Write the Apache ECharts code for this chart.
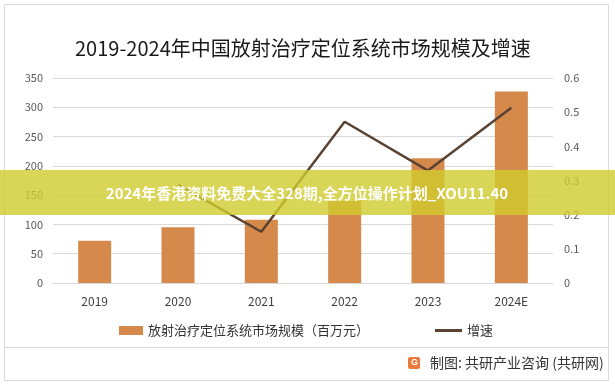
<!DOCTYPE html>
<html><head><meta charset="utf-8">
<script src="https://cdn.jsdelivr.net/npm/echarts@6/dist/echarts.min.js"></script>
<style>html,body{margin:0;padding:0;background:#fff}#c{width:615px;height:387px}</style>
</head><body><div id="c"></div>
<script>
const categories = ['2019','2020','2021','2022','2023','2024E'];
const marketSize = [72, 95, 108, 140, 213, 327];
const growth = [null, 0.287, 0.150, 0.472, 0.329, 0.513];
const leftTicks = [0, 50, 100, 150, 200, 250, 300, 350];
const rightTicks = [0, 0.1, 0.2, 0.3, 0.4, 0.5, 0.6];
const titleText = '2019-2024年中国放射治疗定位系统市场规模及增速';
const barName = '放射治疗定位系统市场规模（百万元）';
const lineName = '增速';
const bannerText = '2024年香港资料免费大全328期,全方位操作计划_XOU11.40';
const sourceText = '制图: 共研产业咨询 (共研网)';

const FONT = '"Noto Sans CJK SC", "Noto Sans", sans-serif';
const chart = echarts.init(document.getElementById('c'), null, {renderer: 'canvas'});
chart.setOption({
  backgroundColor: '#fff',
  animation: false,
  textStyle: {fontFamily: FONT},
  title: {
    text: titleText, left: 70, top: 33,
    textStyle: {fontSize: 20, fontWeight: 'normal', color: '#1a1a1a', fontFamily: FONT}
  },
  grid: {left: 53, right: 62, top: 78, bottom: 104},
  legend: [{
    left: 114, top: 319, itemWidth: 24, itemHeight: 9,
    textStyle: {fontSize: 13, color: '#333', fontFamily: FONT},
    data: [{name: barName, icon: 'rect'}]
  }, {
    left: 430, top: 319, itemWidth: 27, itemHeight: 3,
    textStyle: {fontSize: 13, color: '#333', fontFamily: FONT},
    data: [{name: lineName, icon: 'rect'}]
  }],
  xAxis: {
    type: 'category', data: categories,
    axisLine: {show: true, lineStyle: {color: '#d9d9d9'}},
    axisTick: {show: false},
    axisLabel: {color: '#404040', fontSize: 12, margin: 12, fontFamily: FONT}
  },
  yAxis: [{
    type: 'value', min: leftTicks[0], max: leftTicks[leftTicks.length-1], interval: 50,
    axisLine: {show: false}, axisTick: {show: false},
    splitLine: {lineStyle: {color: '#d9d9d9'}},
    axisLabel: {color: '#595959', fontSize: 11, margin: 10, fontFamily: FONT}
  }, {
    type: 'value', min: rightTicks[0], max: rightTicks[rightTicks.length-1], interval: 0.1,
    axisLine: {show: false}, axisTick: {show: false}, splitLine: {show: false},
    axisLabel: {color: '#595959', fontSize: 11, margin: 11, fontFamily: FONT,
      formatter: v => String(Math.round(v*10)/10)}
  }],
  series: [{
    name: barName, type: 'bar', data: marketSize, barWidth: 33,
    itemStyle: {color: '#d58a4b'}
  }, {
    name: lineName, type: 'line', yAxisIndex: 1, data: growth,
    symbol: 'none', lineStyle: {color: '#5a4232', width: 2.5}, itemStyle: {color: '#5a4232'}
  }],
  graphic: [
    {type: 'rect', shape: {x: 4.5, y: 4.5, width: 604, height: 376}, style: {fill: 'none', stroke: '#d9d9d9', lineWidth: 1}, z: 100},
    {type: 'line', shape: {x1: 4.5, y1: 347.5, x2: 608.5, y2: 347.5}, style: {stroke: '#d9d9d9', lineWidth: 1}, z: 100},
    {type: 'rect', shape: {x: 0, y: 170, width: 615, height: 45}, style: {fill: 'rgba(208,203,45,0.8)'}, z: 200},
    {type: 'text', x: 307, y: 193, style: {text: bannerText, fill: '#fff', font: 'bold 15px ' + FONT, align: 'center', verticalAlign: 'middle'}, z: 201},
    {type: 'rect', shape: {x: 408, y: 357, width: 12, height: 12, r: 2}, style: {fill: '#ec7a3c'}, z: 100},
    {type: 'text', x: 411, y: 363, style: {text: 'G', fill: '#fff', font: 'bold 9px sans-serif', verticalAlign: 'middle'}, z: 101},
    {type: 'text', x: 430, y: 363, style: {text: sourceText, fill: '#333', font: '14px ' + FONT, verticalAlign: 'middle'}, z: 100}
  ]
});
</script></body></html>
